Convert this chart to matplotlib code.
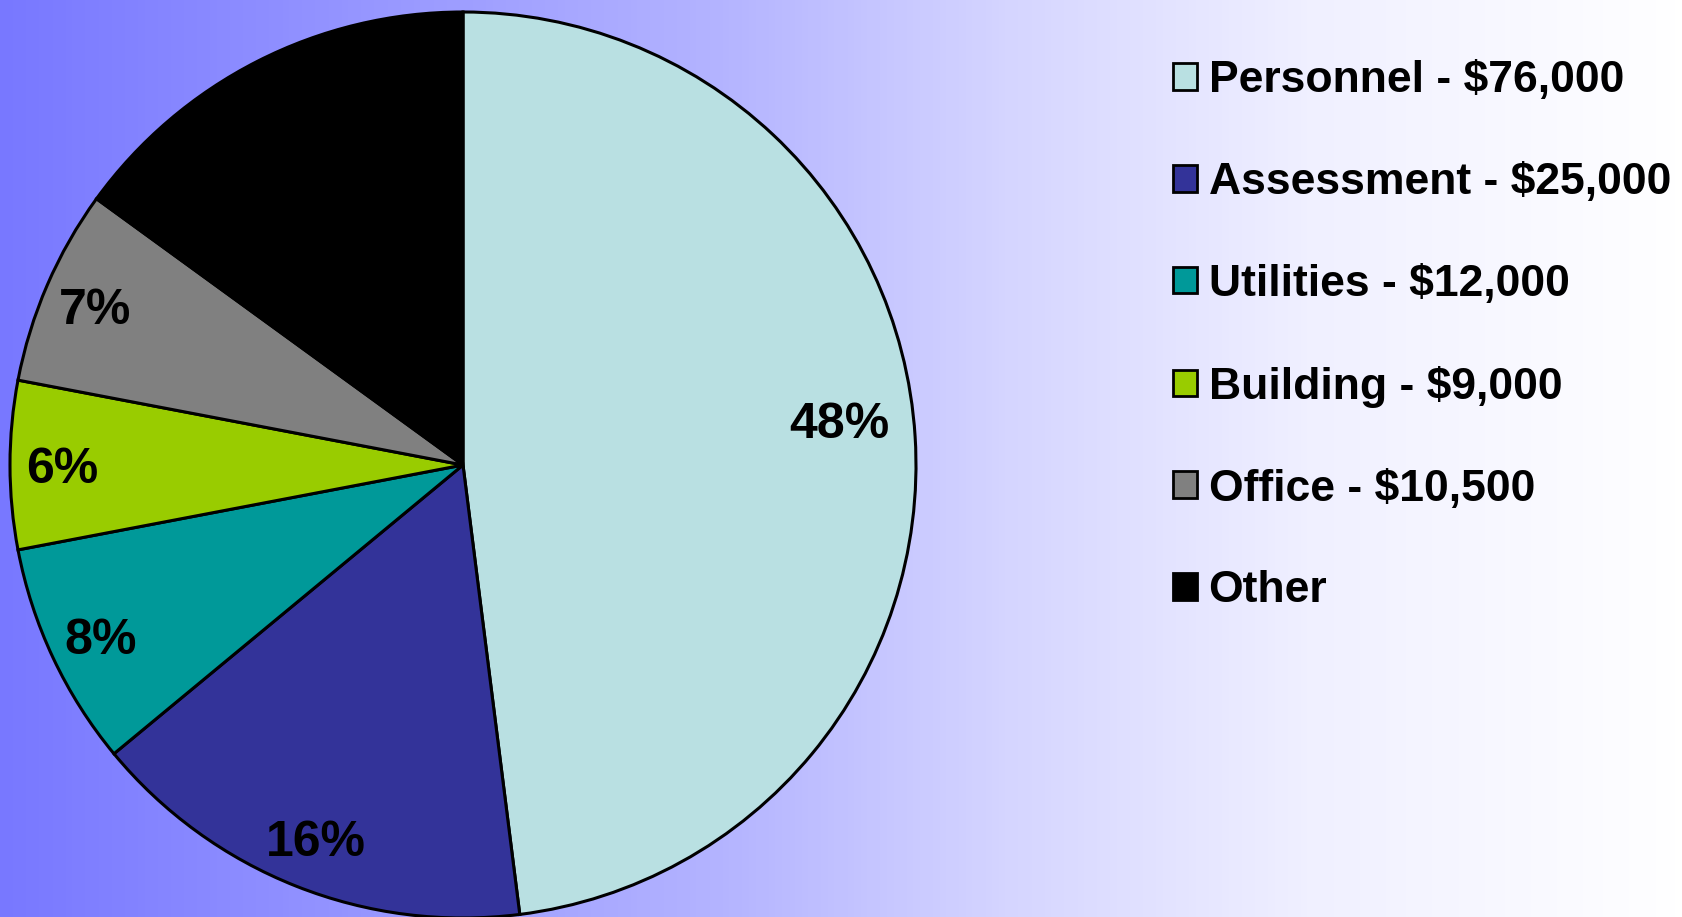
import matplotlib
matplotlib.use("Agg")
import matplotlib.pyplot as plt
import numpy as np
from matplotlib.colors import LinearSegmentedColormap

# Budget shares (clockwise from 12 o'clock)
categories = ["Personnel - $76,000", "Assessment - $25,000", "Utilities - $12,000",
              "Building - $9,000", "Office - $10,500", "Other"]
shares = [48, 16, 8, 6, 7, 15]
colors = ["#B9E0E2", "#333399", "#009999", "#99CC00", "#808080", "#000000"]

plt.rcParams["font.family"] = ["Liberation Sans", "DejaVu Sans"]
plt.rcParams["font.weight"] = "bold"

fig = plt.figure(figsize=(16.82, 9.17), dpi=100)

# background: horizontal gradient blue -> white
bg = fig.add_axes([0, 0, 1, 1])
grad = LinearSegmentedColormap.from_list(
    "bg", [(0.0, (120/255, 120/255, 1)), (0.43, (180/255, 180/255, 1)),
           (0.6, (213/255, 213/255, 1)), (0.78, (240/255, 240/255, 1)),
           (1.0, (1, 1, 1))])
bg.imshow(np.linspace(0, 1, 512)[None, :], aspect="auto", cmap=grad,
          extent=[0, 1, 0, 1])
bg.set_axis_off()

# pie axes: centre ~ (463, 465) px, radius ~453 px
W, H = 1682, 917
cx, cy, r = 463, 465, 453
ax = fig.add_axes([(cx - r) / W, (H - cy - r) / H, 2 * r / W, 2 * r / H])
wedges, texts, autotexts = ax.pie(
    shares, colors=colors, startangle=90, counterclock=False,
    autopct="%d%%", pctdistance=0.885,
    wedgeprops=dict(edgecolor="black", linewidth=2.2),
    textprops=dict(fontsize=36, fontweight="bold", color="black"))
for t in autotexts:
    t.set_va("center_baseline")
ax.set_xlim(-1, 1)
ax.set_ylim(-1, 1)
ax.set_aspect("equal")
ax.set_axis_off()
# the 48% label sits a little further in
autotexts[0].set_position((0.83, 0.1))

leg = fig.legend(wedges, categories, loc="upper left",
                 bbox_to_anchor=(1133 / W, 1 - 20 / H), frameon=False,
                 prop=dict(size=32, weight="bold"),
                 handlelength=0.55, handleheight=0.55, handletextpad=0.25,
                 labelspacing=1.37)
for h in leg.legend_handles:
    h.set_linewidth(2)
    h.set_edgecolor("black")

fig.savefig("out.png", dpi=100)
